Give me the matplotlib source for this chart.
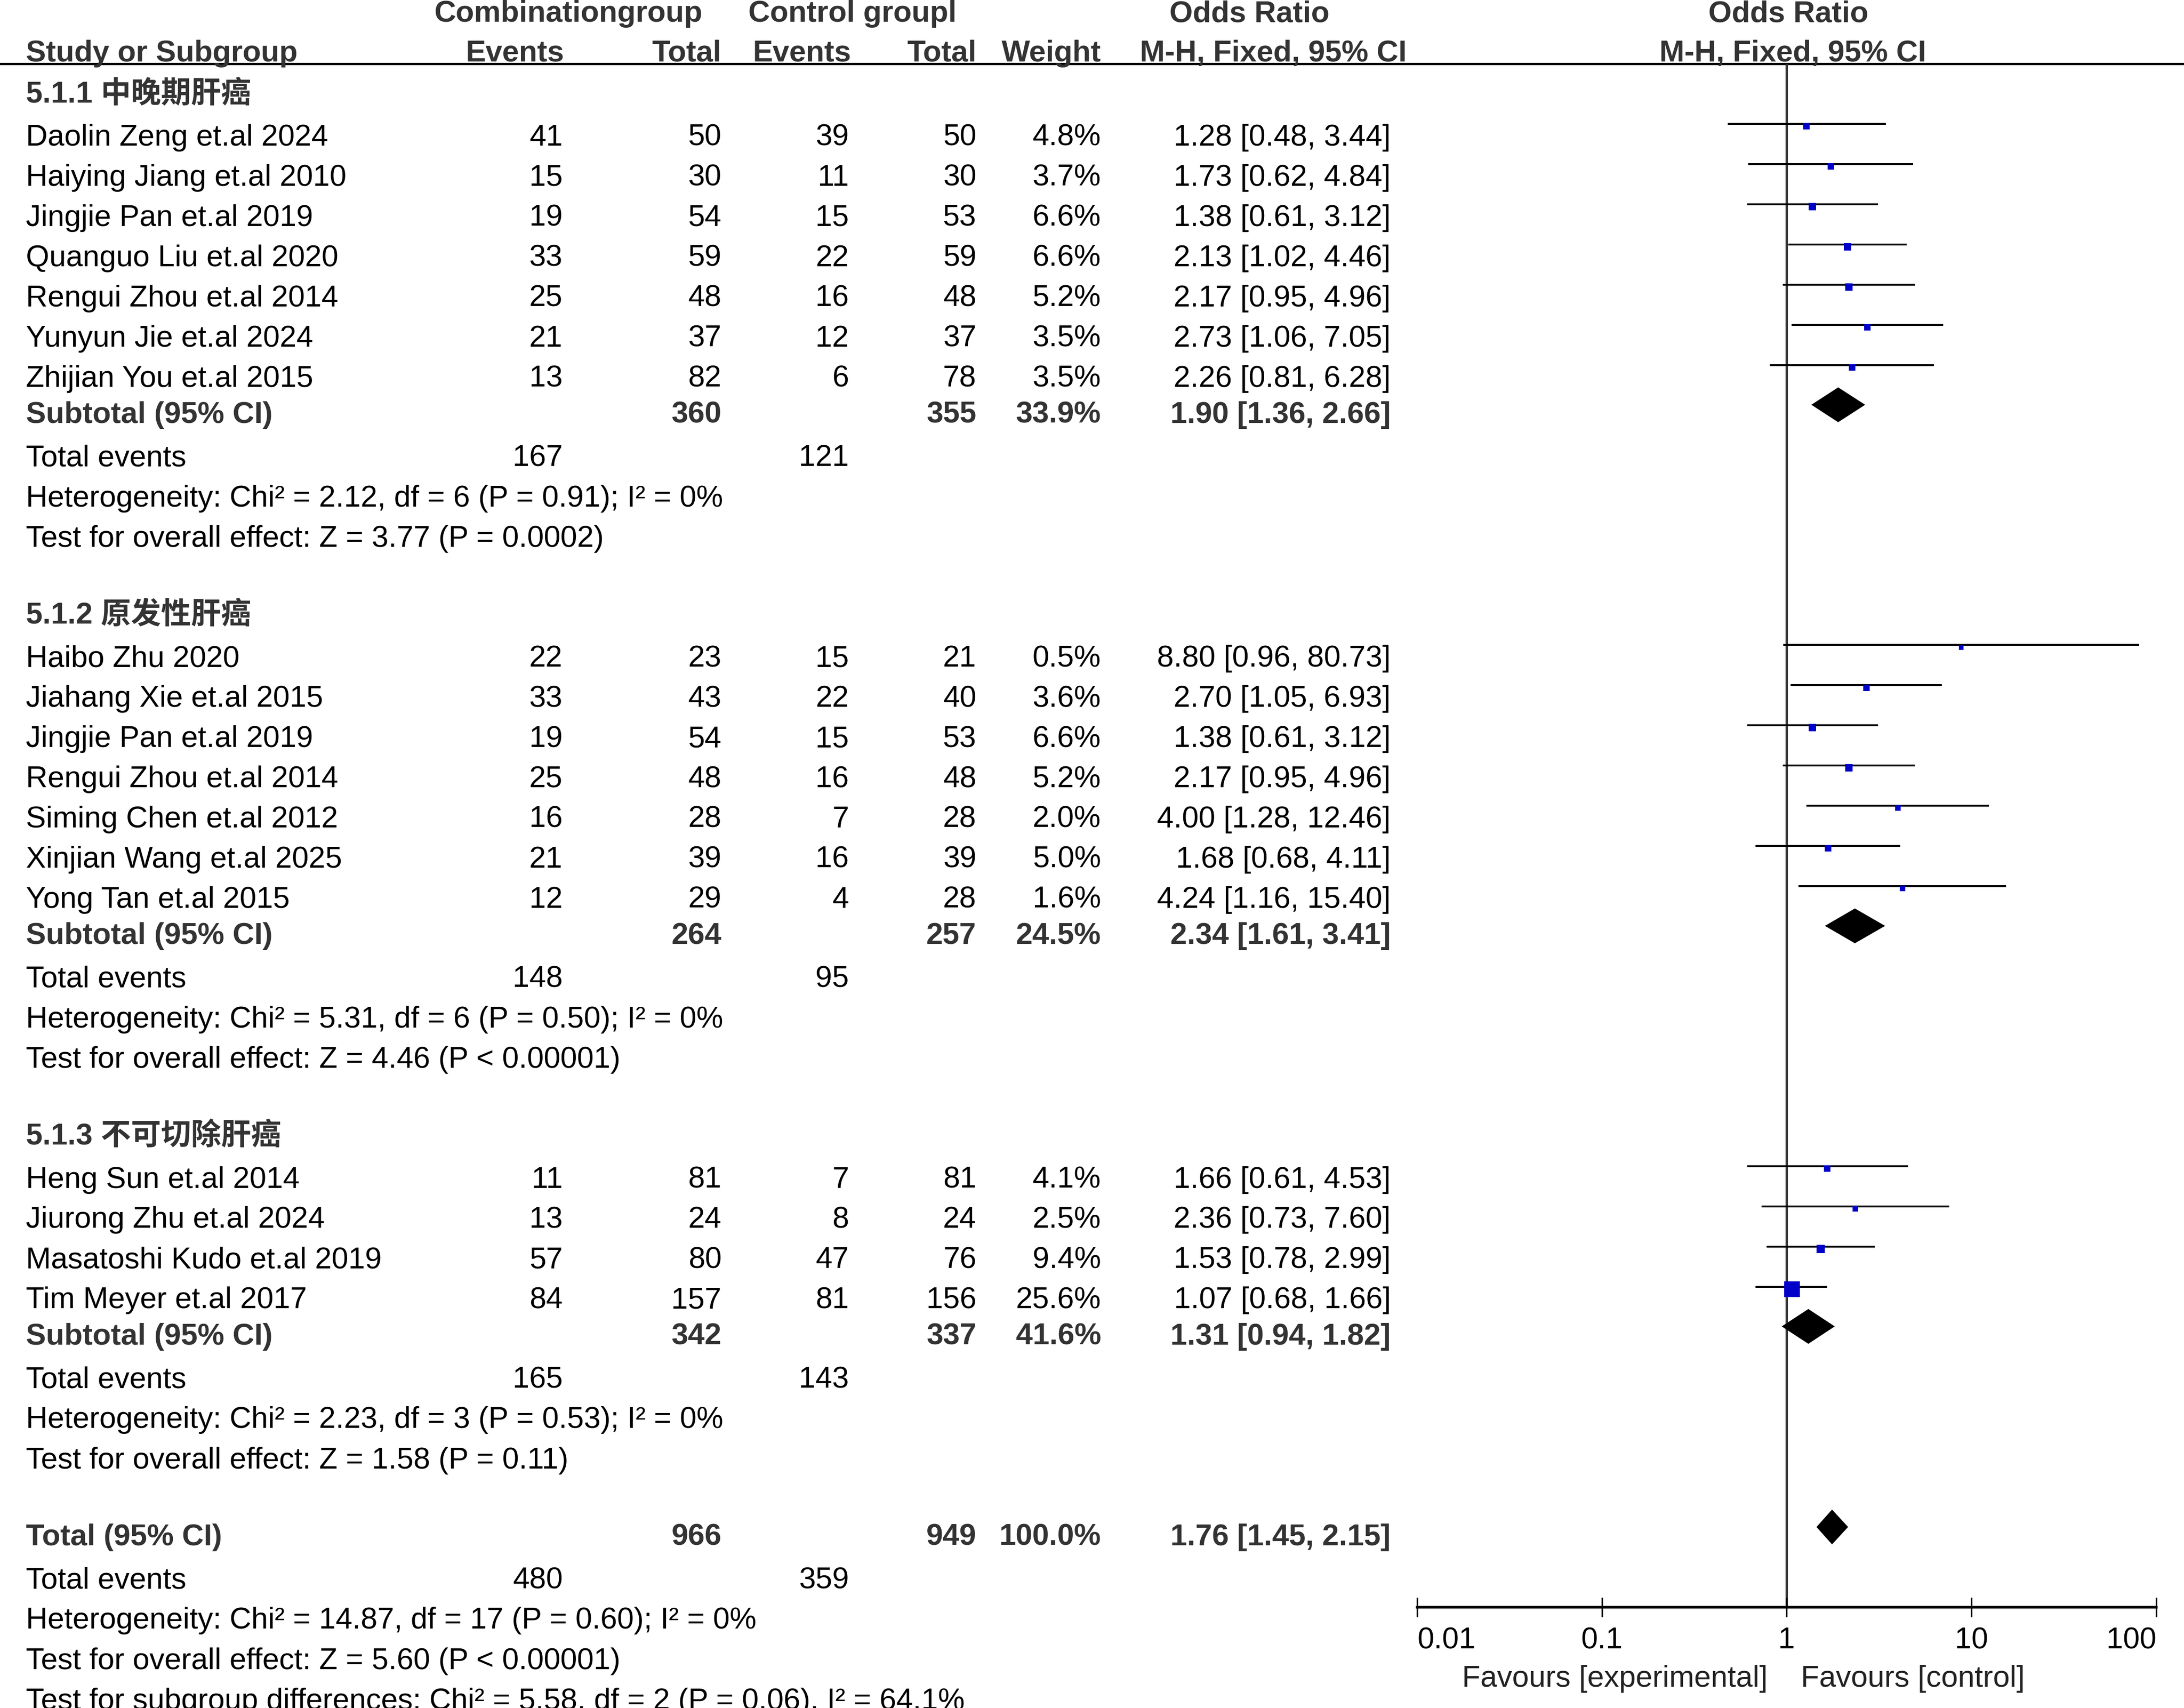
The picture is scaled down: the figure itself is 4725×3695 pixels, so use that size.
import matplotlib
matplotlib.use('Agg')
import matplotlib.pyplot as plt
import numpy as np

plt.rcParams['font.family'] = ['Liberation Sans', 'Noto Sans CJK SC', 'DejaVu Sans']

# ---------------- data ----------------
group_titles = ['5.1.1 中晚期肝癌', '5.1.2 原发性肝癌', '5.1.3 不可切除肝癌']

studies_1 = ["Daolin Zeng et.al 2024", "Haiying Jiang et.al 2010", "Jingjie Pan et.al 2019",
             "Quanguo Liu et.al 2020", "Rengui Zhou et.al 2014", "Yunyun Jie et.al 2024",
             "Zhijian You et.al 2015"]
events_exp_1 = [41, 15, 19, 33, 25, 21, 13]
total_exp_1 = [50, 30, 54, 59, 48, 37, 82]
events_ctl_1 = [39, 11, 15, 22, 16, 12, 6]
total_ctl_1 = [50, 30, 53, 59, 48, 37, 78]
weight_1 = [4.8, 3.7, 6.6, 6.6, 5.2, 3.5, 3.5]
or_1 = [1.28, 1.73, 1.38, 2.13, 2.17, 2.73, 2.26]
lo_1 = [0.48, 0.62, 0.61, 1.02, 0.95, 1.06, 0.81]
hi_1 = [3.44, 4.84, 3.12, 4.46, 4.96, 7.05, 6.28]

studies_2 = ["Haibo Zhu 2020", "Jiahang Xie et.al 2015", "Jingjie Pan et.al 2019",
             "Rengui Zhou et.al 2014", "Siming Chen et.al 2012", "Xinjian Wang et.al 2025",
             "Yong Tan et.al 2015"]
events_exp_2 = [22, 33, 19, 25, 16, 21, 12]
total_exp_2 = [23, 43, 54, 48, 28, 39, 29]
events_ctl_2 = [15, 22, 15, 16, 7, 16, 4]
total_ctl_2 = [21, 40, 53, 48, 28, 39, 28]
weight_2 = [0.5, 3.6, 6.6, 5.2, 2.0, 5.0, 1.6]
or_2 = [8.80, 2.70, 1.38, 2.17, 4.00, 1.68, 4.24]
lo_2 = [0.96, 1.05, 0.61, 0.95, 1.28, 0.68, 1.16]
hi_2 = [80.73, 6.93, 3.12, 4.96, 12.46, 4.11, 15.40]

studies_3 = ["Heng Sun et.al 2014", "Jiurong Zhu et.al 2024", "Masatoshi Kudo et.al 2019",
             "Tim Meyer et.al 2017"]
events_exp_3 = [11, 13, 57, 84]
total_exp_3 = [81, 24, 80, 157]
events_ctl_3 = [7, 8, 47, 81]
total_ctl_3 = [81, 24, 76, 156]
weight_3 = [4.1, 2.5, 9.4, 25.6]
or_3 = [1.66, 2.36, 1.53, 1.07]
lo_3 = [0.61, 0.73, 0.78, 0.68]
hi_3 = [4.53, 7.60, 2.99, 1.66]

sub_total_exp = [360, 264, 342]
sub_total_ctl = [355, 257, 337]
sub_weight = [33.9, 24.5, 41.6]
sub_or = [1.90, 2.34, 1.31]
sub_lo = [1.36, 1.61, 0.94]
sub_hi = [2.66, 3.41, 1.82]
sub_events_exp = [167, 148, 165]
sub_events_ctl = [121, 95, 143]
sub_chi2 = [2.12, 5.31, 2.23]
sub_df = [6, 6, 3]
sub_het_p = ['= 0.91', '= 0.50', '= 0.53']
sub_i2 = ['0', '0', '0']
sub_z = [3.77, 4.46, 1.58]
sub_z_p = ['= 0.0002', '< 0.00001', '= 0.11']

tot_total_exp = 966
tot_total_ctl = 949
tot_weight = 100.0
tot_or, tot_lo, tot_hi = 1.76, 1.45, 2.15
tot_events_exp = 480
tot_events_ctl = 359
tot_chi2, tot_df, tot_het_p, tot_i2 = 14.87, 17, '= 0.60', '0'
tot_z, tot_z_p = 5.60, '< 0.00001'
diff_chi2, diff_df, diff_p, diff_i2 = 5.58, 2, '= 0.06', '64.1'

axis_ticks = [0.01, 0.1, 1, 10, 100]
axis_ticklabels = ['0.01', '0.1', '1', '10', '100']
favours_left = 'Favours [experimental]'
favours_right = 'Favours [control]'

groups = [
    (studies_1, events_exp_1, total_exp_1, events_ctl_1, total_ctl_1, weight_1, or_1, lo_1, hi_1),
    (studies_2, events_exp_2, total_exp_2, events_ctl_2, total_ctl_2, weight_2, or_2, lo_2, hi_2),
    (studies_3, events_exp_3, total_exp_3, events_ctl_3, total_ctl_3, weight_3, or_3, lo_3, hi_3),
]

# ---------------- layout ----------------
W, H = 1568.0, 1226.2
fig = plt.figure(figsize=(4725 / 300, 3695 / 300), dpi=300)
ax = fig.add_axes([0, 0, 1, 1])
ax.set_xlim(0, W)
ax.set_ylim(H, 0)
ax.axis('off')

FS = 15.6
BOLD_C = '#333333'
X_NAME, X_EV1, X_TOT1, X_EV2, X_TOT2, X_W, X_CI = 18.6, 404, 518, 609.5, 701, 790.5, 998.5
AX_Y = 1154.0
HEAD_LINE = 45.8


def txt(x, yc, s, ha='left', bold=False, color=None):
    ax.text(x, yc + 7.5, s, ha=ha, va='baseline', fontsize=FS,
            fontweight='bold' if bold else 'normal',
            color=color or (BOLD_C if bold else 'black'))


# header
for s, xc in [('Combinationgroup', 408), ('Control groupl', 612), ('Odds Ratio', 897), ('Odds Ratio', 1284)]:
    ax.text(xc, 15.6, s, ha='center', va='baseline', fontsize=FS, fontweight='bold', color=BOLD_C)
ax.text(X_NAME, 44.1, 'Study or Subgroup', ha='left', va='baseline', fontsize=FS, fontweight='bold', color=BOLD_C)
for s, xr in [('Events', 405), ('Total', 518), ('Events', 611), ('Total', 701), ('Weight', 790.5)]:
    ax.text(xr, 44.1, s, ha='right', va='baseline', fontsize=FS, fontweight='bold', color=BOLD_C)
for xc in (914, 1287):
    ax.text(xc, 44.1, 'M-H, Fixed, 95% CI', ha='center', va='baseline', fontsize=FS, fontweight='bold', color=BOLD_C)
ax.axhline(HEAD_LINE, color='black', lw=1.2)

# forest axes
axf = fig.add_axes([1017.5 / W, 1 - AX_Y / H, (1548 - 1017.5) / W, AX_Y / H])
axf.set_xscale('log')
axf.set_xlim(axis_ticks[0], axis_ticks[-1])
axf.set_ylim(AX_Y, 0)
axf.patch.set_alpha(0)
for sp in ('top', 'left', 'right'):
    axf.spines[sp].set_visible(False)
axf.spines['bottom'].set_linewidth(1.35)
axf.set_yticks([])
axf.set_xticks(axis_ticks)
axf.set_xticklabels(axis_ticklabels)
axf.xaxis.set_minor_locator(matplotlib.ticker.NullLocator())
axf.tick_params(axis='x', direction='inout', length=10, width=0.8, pad=5.0, labelsize=FS)
lbls = axf.get_xticklabels()
lbls[0].set_ha('left')
lbls[-1].set_ha('right')
axf.vlines(1, HEAD_LINE, AX_Y, color='#333333', lw=1.2, zorder=1)

SQ_C = '#0000C8'
DIAM_H = 25.0


def diamond(yc, est, lo, hi):
    axf.fill([lo, est, hi, est], [yc, yc - DIAM_H / 2, yc, yc + DIAM_H / 2],
             color='black', lw=0, zorder=3)


STEP = 28.85
y = 66.0
for gi, g in enumerate(groups):
    names, ee, te, ec, tc, wt, orv, lo, hi = g
    txt(X_NAME, y, group_titles[gi], bold=True)
    y += 31
    for i in range(len(names)):
        if i > 0:
            y += STEP
        txt(X_NAME, y, names[i])
        txt(X_EV1, y, str(ee[i]), ha='right')
        txt(X_TOT1, y, str(te[i]), ha='right')
        txt(X_EV2, y, str(ec[i]), ha='right')
        txt(X_TOT2, y, str(tc[i]), ha='right')
        txt(X_W, y, f'{wt[i]:.1f}%', ha='right')
        txt(X_CI, y, f'{orv[i]:.2f} [{lo[i]:.2f}, {hi[i]:.2f}]', ha='right')
        yl = y - 8
        axf.hlines(yl, lo[i], hi[i], color='black', lw=0.96, zorder=2)
        size_px = 10.5 + 0.88 * wt[i]
        axf.plot([orv[i]], [yl + 1.7], marker='s', ms=size_px * 72 / 300,
                 mfc=SQ_C, mec=SQ_C, mew=0, ls='none', zorder=4)
    y += 26
    txt(X_NAME, y, 'Subtotal (95% CI)', bold=True)
    txt(X_TOT1, y, str(sub_total_exp[gi]), ha='right', bold=True)
    txt(X_TOT2, y, str(sub_total_ctl[gi]), ha='right', bold=True)
    txt(X_W, y, f'{sub_weight[gi]:.1f}%', ha='right', bold=True)
    txt(X_CI, y, f'{sub_or[gi]:.2f} [{sub_lo[gi]:.2f}, {sub_hi[gi]:.2f}]', ha='right', bold=True)
    diamond(y - 5.5, sub_or[gi], sub_lo[gi], sub_hi[gi])
    y += 31
    txt(X_NAME, y, 'Total events')
    txt(X_EV1, y, str(sub_events_exp[gi]), ha='right')
    txt(X_EV2, y, str(sub_events_ctl[gi]), ha='right')
    y += 29
    txt(X_NAME, y, f'Heterogeneity: Chi² = {sub_chi2[gi]:.2f}, df = {sub_df[gi]} (P {sub_het_p[gi]}); I² = {sub_i2[gi]}%')
    y += 29
    txt(X_NAME, y, f'Test for overall effect: Z = {sub_z[gi]:.2f} (P {sub_z_p[gi]})')
    y += 55

# overall
txt(X_NAME, y, 'Total (95% CI)', bold=True)
txt(X_TOT1, y, str(tot_total_exp), ha='right', bold=True)
txt(X_TOT2, y, str(tot_total_ctl), ha='right', bold=True)
txt(X_W, y, f'{tot_weight:.1f}%', ha='right', bold=True)
txt(X_CI, y, f'{tot_or:.2f} [{tot_lo:.2f}, {tot_hi:.2f}]', ha='right', bold=True)
diamond(y - 5.5, tot_or, tot_lo, tot_hi)
y += 31
txt(X_NAME, y, 'Total events')
txt(X_EV1, y, str(tot_events_exp), ha='right')
txt(X_EV2, y, str(tot_events_ctl), ha='right')
y += 29
txt(X_NAME, y, f'Heterogeneity: Chi² = {tot_chi2:.2f}, df = {tot_df} (P {tot_het_p}); I² = {tot_i2}%')
y += 29
txt(X_NAME, y, f'Test for overall effect: Z = {tot_z:.2f} (P {tot_z_p})')
y += 29
txt(X_NAME, y, f'Test for subgroup differences: Chi² = {diff_chi2:.2f}, df = {diff_df} (P {diff_p}), I² = {diff_i2}%')

# favours labels
ax.text(1269, 1211, favours_left, ha='right', va='baseline', fontsize=FS, color='#222222')
ax.text(1293, 1211, favours_right, ha='left', va='baseline', fontsize=FS, color='#222222')

fig.savefig('out.png', dpi=300, facecolor='white')
